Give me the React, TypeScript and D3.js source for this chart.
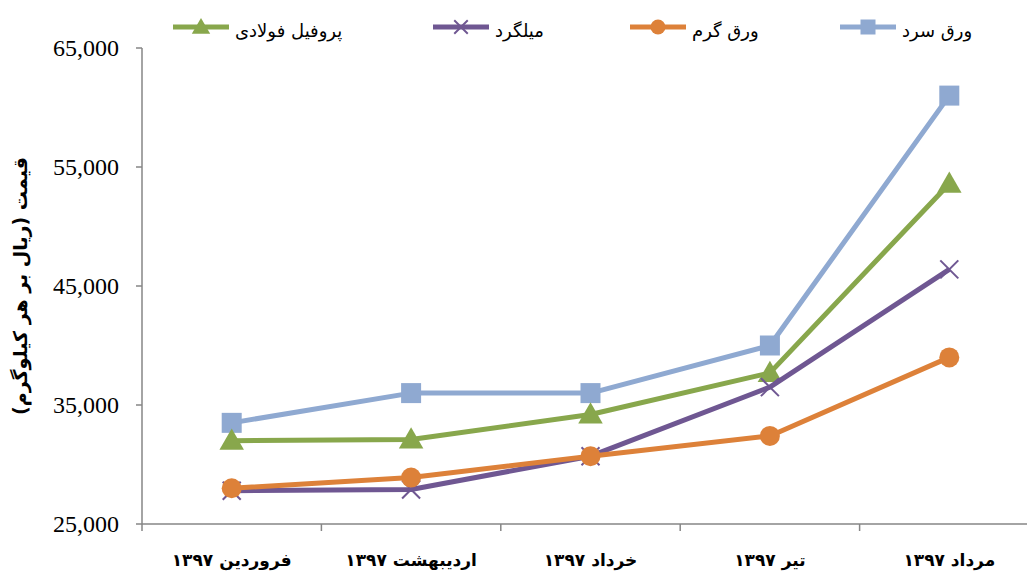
import React from "react";
import * as d3 from "d3";

const categories = ["فروردین ۱۳۹۷", "اردیبهشت ۱۳۹۷", "خرداد ۱۳۹۷", "تیر ۱۳۹۷", "مرداد ۱۳۹۷"];
const yTicks = [25000, 35000, 45000, 55000, 65000];
const coldSheet = [33500, 36000, 36000, 40000, 61000];
const steelProfile = [32000, 32100, 34200, 37700, 53600];
const rebar = [27800, 27900, 30700, 36500, 46400];
const hotSheet = [28000, 28900, 30700, 32400, 39000];

const seriesNames = ["ورق سرد", "ورق گرم", "میلگرد", "پروفیل فولادی"];
const seriesColors = ["#8FA9D1", "#DD8139", "#6F5792", "#88A74C"];
const seriesMarkers = ["square", "circle", "x", "triangle"];
const seriesData = [coldSheet, hotSheet, rebar, steelProfile];

const W = 1027, H = 577;
const persianFont = "'DejaVu Sans', sans-serif";

function Marker({ type, x, y, color, s = 1 }: { type: string; x: number; y: number; color: string; s?: number }) {
  if (type === "square") return <rect x={x - 10 * s} y={y - 10 * s} width={20 * s} height={20 * s} fill={color} />;
  if (type === "circle") return <circle cx={x} cy={y} r={10 * s} fill={color} />;
  if (type === "triangle") {
    const sym = d3.symbol(d3.symbolTriangle, 260 * s * s)();
    return <path d={sym as string} transform={`translate(${x},${y + 2 * s})`} fill={color} />;
  }
  const r = 9 * s;
  return (
    <g stroke={color} strokeWidth={2}>
      <line x1={x - r} y1={y - r} x2={x + r} y2={y + r} />
      <line x1={x - r} y1={y + r} x2={x + r} y2={y - r} />
    </g>
  );
}

export default function App() {
  const x0 = 142, x1 = 1039;
  const y = d3.scaleLinear().domain([25000, 65000]).range([524, 48]);
  const xBand = d3.scaleBand().domain(categories).range([x0, x1]).padding(0);
  const cx = (c: string) => (xBand(c) as number) + xBand.bandwidth() / 2;
  const line = d3.line<number>().x((_, i) => cx(categories[i])).y((v) => y(v));

  const drawOrder = [0, 3, 2, 1];
  const legendX = [840, 630, 433, 173];

  return (
    <svg width={W} height={H} style={{ position: "absolute", left: 0, top: 0, background: "#fff" }}>
      {/* y axis */}
      <line x1={x0} y1={48} x2={x0} y2={524} stroke="#868686" strokeWidth={1.5} />
      {yTicks.map((t) => (
        <g key={t}>
          <line x1={x0 - 6} x2={x0} y1={y(t)} y2={y(t)} stroke="#868686" strokeWidth={1.5} />
          <text x={x0 - 23} y={y(t)} dy="0.35em" textAnchor="end" fontFamily="'Liberation Serif', serif" fontSize={24} fill="#000">
            {d3.format(",")(t)}
          </text>
        </g>
      ))}
      {/* x axis */}
      <line x1={x0} y1={524} x2={W} y2={524} stroke="#868686" strokeWidth={1.5} />
      {categories.map((c) => (
        <g key={c}>
          <line x1={xBand(c) as number} x2={xBand(c) as number} y1={524} y2={531} stroke="#868686" strokeWidth={1.5} />
          <text x={cx(c)} y={566} textAnchor="middle" fontFamily={persianFont} fontWeight="bold" fontSize={17} direction="rtl" fill="#000">
            {c}
          </text>
        </g>
      ))}
      {/* y title */}
      <text transform="translate(27,286) rotate(-90)" textAnchor="middle" fontFamily={persianFont} fontWeight="bold" fontSize={19} direction="rtl" fill="#000">
        قیمت (ریال بر هر کیلوگرم)
      </text>
      {/* series */}
      {drawOrder.map((i) => (
        <g key={seriesNames[i]}>
          <path d={line(seriesData[i]) as string} fill="none" stroke={seriesColors[i]} strokeWidth={5} strokeLinejoin="round" />
          {seriesData[i].map((v, j) => (
            <Marker key={j} type={seriesMarkers[i]} x={cx(categories[j])} y={y(v)} color={seriesColors[i]} />
          ))}
        </g>
      ))}
      {/* legend */}
      {seriesNames.map((n, i) => (
        <g key={n}>
          <line x1={legendX[i]} x2={legendX[i] + 56} y1={27} y2={27} stroke={seriesColors[i]} strokeWidth={5} />
          <Marker type={seriesMarkers[i]} x={legendX[i] + 28} y={27} color={seriesColors[i]} s={0.75} />
          <text x={legendX[i] + 62} y={31} dy="0.35em" textAnchor="start" fontFamily={persianFont} fontSize={18} fill="#000">
            {n}
          </text>
        </g>
      ))}
    </svg>
  );
}
